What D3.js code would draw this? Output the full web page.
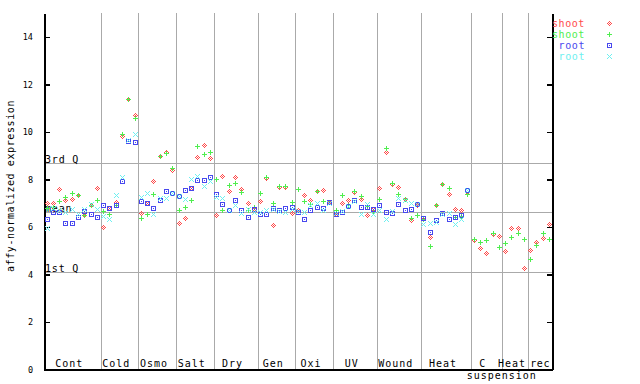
<!DOCTYPE html>
<html><head><meta charset="utf-8">
<script src="https://cdn.jsdelivr.net/npm/d3@7"></script>
<style>
body{margin:0;background:#fff}
svg text{font-family:"DejaVu Sans Mono",monospace}
</style>
</head><body>
<svg id="chart" width="640" height="384"></svg>
<script>
// ---------- data ----------
const categories = ["Cont","Cold","Osmo","Salt","Dry","Gen","Oxi","UV","Wound","Heat","C\nsuspension","Heat","rec"];
const sampleCounts = [9,6,6,6,7,6,6,7,7,8,5,4,4];
const seriesLabels = ["shoot","shoot","root","root"];

const shootA = [
 6.99,6.99,7.58,7.13,7.17,7.30,6.47,6.92,7.62,
 5.97,6.78,7.02,9.80,11.36,10.71,
 6.57,6.99,7.90,8.96,9.14,8.37,
 6.15,6.36,7.62,8.93,9.41,8.89,
 6.46,8.14,7.48,8.09,7.58,6.99,6.75,
 7.06,8.05,6.04,7.65,7.65,6.57,
 6.70,7.30,7.13,7.47,7.55,7.03,
 6.50,6.99,7.10,7.44,7.16,6.46,6.74,
 7.62,9.12,7.79,7.67,7.14,6.25,6.90,
 6.30,5.56,6.88,7.79,7.37,6.75,6.71,7.45,
 5.41,5.10,4.89,5.68,5.59,
 4.98,5.94,5.94,4.25,
 5.02,5.36,5.52,6.08];
const shootB = [
 6.78,6.80,7.06,7.23,7.41,7.30,6.47,6.90,7.13,
 6.64,6.50,6.92,9.87,11.38,10.57,
 6.36,6.53,7.37,8.98,9.07,8.47,
 6.67,6.82,7.10,9.38,9.03,9.14,
 8.00,6.71,7.76,7.81,7.46,6.68,6.80,
 7.41,8.09,6.99,7.69,7.70,7.03,
 7.58,7.06,6.96,7.49,7.06,7.03,
 6.68,7.30,6.90,7.47,7.27,6.85,6.64,
 7.16,9.32,7.81,7.38,7.16,6.36,6.46,
 6.30,5.19,6.88,7.79,7.62,6.40,6.45,7.37,
 5.45,5.35,5.43,5.72,5.12,
 5.31,5.56,5.73,5.48,
 4.63,5.21,5.73,5.48];
const rootA = [
 6.29,6.61,6.61,6.15,6.15,6.40,6.64,6.53,6.40,
 6.88,6.78,6.92,7.90,9.60,9.57,
 7.06,6.99,6.78,7.13,7.51,7.41,
 7.27,7.52,7.62,7.97,7.97,8.09,
 7.38,6.96,6.68,7.13,6.68,6.40,6.74,
 6.54,6.54,6.78,6.71,6.78,6.82,
 6.61,6.32,6.68,6.82,6.78,7.03,
 6.50,6.61,6.85,7.10,6.82,6.82,6.74,
 6.92,6.61,6.57,6.96,6.71,6.74,6.96,
 6.36,5.77,6.26,6.57,6.32,6.40,6.46,7.52,
 null,null,null,null,null,
 null,null,null,null,
 null,null,null,null];
const rootB = [
 5.94,6.78,6.70,6.60,6.74,6.53,6.72,6.95,6.72,
 6.43,6.32,7.34,8.07,9.62,9.91,
 7.23,7.41,6.53,7.20,7.20,7.41,
 7.27,7.16,8.00,8.11,7.72,7.90,
 7.24,7.20,6.68,6.88,6.57,6.75,6.60,
 6.60,6.68,6.72,6.66,6.62,6.75,
 6.65,6.60,6.92,6.99,6.67,6.99,
 6.55,6.65,6.85,7.05,6.50,6.96,6.50,
 6.71,6.29,6.65,7.20,7.10,6.99,6.95,
 6.08,6.15,6.20,6.50,6.57,6.12,6.29,7.52,
 null,null,null,null,null,
 null,null,null,null,
 null,null,null,null];

const refLabels = ["3rd Q","mean","1st Q"];
const refValues = [8.68, 6.61, 4.09];
const yTicks = [0,2,4,6,8,10,12,14];
const yLabel = "affy-normalized expression";

// ---------- setup ----------
const svg = d3.select("#chart");
const total = d3.sum(sampleCounts);
const L = 44, R = 552.7, T = 13.2, B = 369.3;
const x = d3.scaleLinear().domain([0, total]).range([L, R]);
const y = d3.scaleLinear().domain([0, 15]).range([B, T]);

const colors = ["#ff4a4a","#4fee4f","#4848ee","#6ef0f0"];
const starts = [0]; sampleCounts.forEach((c,i)=>starts.push(starts[i]+c));

// grid: vertical category boundaries
svg.append("g").selectAll("line").data(starts.slice(1,-1)).join("line")
  .attr("x1", d=>Math.round(x(d))+0.5).attr("x2", d=>Math.round(x(d))+0.5)
  .attr("y1", T).attr("y2", B)
  .attr("stroke","#aaaaaa").attr("stroke-width",1).attr("shape-rendering","crispEdges");

// reference lines
svg.append("g").selectAll("line").data(refValues).join("line")
  .attr("x1", L).attr("x2", R)
  .attr("y1", d=>Math.round(y(d))+0.5).attr("y2", d=>Math.round(y(d))+0.5)
  .attr("stroke","#aaaaaa").attr("stroke-width",1).attr("shape-rendering","crispEdges");
svg.append("g").selectAll("text").data(refValues).join("text")
  .attr("x", L+1).attr("y", d=>Math.round(y(d))-0.5)
  .attr("font-size",10).attr("letter-spacing",0.8).attr("fill","#000")
  .text((d,i)=>refLabels[i]);

// axes
const axL = svg.append("g").attr("transform",`translate(${L},0)`)
  .call(d3.axisLeft(y).tickValues(yTicks).tickSize(-6).tickSizeOuter(0).tickPadding(11));
const axR = svg.append("g").attr("transform",`translate(${R},0)`)
  .call(d3.axisRight(y).tickValues(yTicks).tickSize(-6).tickSizeOuter(0).tickFormat(""));
const axB = svg.append("g").attr("transform",`translate(0,${B})`)
  .call(d3.axisBottom(x).tickValues([]).tickSizeOuter(0));
[axL,axR,axB].forEach(a=>{
  a.select(".domain").attr("stroke","#000").attr("stroke-width",2).attr("shape-rendering","crispEdges");
  a.selectAll(".tick line").attr("stroke","#000").attr("stroke-width",1.5).attr("shape-rendering","crispEdges");
});
axL.selectAll(".tick text").attr("font-size",8.5).attr("font-family","DejaVu Sans Mono").attr("fill","#000");

// y label
svg.append("text").attr("transform",`translate(14,186) rotate(-90)`)
  .attr("text-anchor","middle").attr("font-size",10).attr("letter-spacing",0.6)
  .text(yLabel);

// category labels
categories.forEach((c,i)=>{
  const cx = x((starts[i]+starts[i+1])/2);
  const lines = c.split("\n");
  const last = i === categories.length-1;
  if(lines.length===1){
    svg.append("text").attr("x",last ? cx : cx-3).attr("y",367).attr("text-anchor","middle")
      .attr("font-size",10).attr("letter-spacing",last ? 0.6 : 1).text(lines[0]);
  } else {
    svg.append("text").attr("x",cx-4).attr("y",367).attr("text-anchor","middle")
      .attr("font-size",10).attr("letter-spacing",1).text(lines[0]);
    svg.append("text").attr("x",cx+15).attr("y",378.5).attr("text-anchor","middle")
      .attr("font-size",10).attr("letter-spacing",1).text(lines[1]);
  }
});

// markers as pixel masks
const masks = {
  diamond: [[0,0],[1,1],[-1,1],[1,-1],[-1,-1],[2,0],[-2,0],[0,2],[0,-2]],
  plus: [[0,0],[1,0],[2,0],[-1,0],[-2,0],[0,1],[0,2],[0,-1],[0,-2]],
  square: [[0,0],[-2,-2],[-1,-2],[0,-2],[1,-2],[2,-2],[-2,2],[-1,2],[0,2],[1,2],[2,2],[-2,-1],[-2,0],[-2,1],[2,-1],[2,0],[2,1]],
  cross: [[0,0],[1,1],[2,2],[-1,-1],[-2,-2],[1,-1],[2,-2],[-1,1],[-2,2]]
};
const shapes = ["diamond","plus","square","cross"];
function pix(cx, cy, mask){
  return mask.map(([dx,dy])=>`M${cx+dx},${cy+dy}h1v1h-1z`).join("");
}
const series = [shootA, shootB, rootA, rootB];
series.forEach((vals,si)=>{
  const pts = vals.map((v,i)=>({i,v})).filter(d=>d.v!=null);
  svg.append("g").selectAll("path").data(pts).join("path")
    .attr("d", d=>pix(Math.floor(x(d.i+0.5)), Math.floor(y(d.v)), masks[shapes[si]]))
    .attr("fill", colors[si]).attr("shape-rendering","crispEdges");
});

// legend
const legY = [23,34,45,56];
seriesLabels.forEach((s,i)=>{
  svg.append("text").attr("x",585).attr("y",legY[i]+4).attr("text-anchor","end")
    .attr("font-size",10).attr("letter-spacing",0.6).attr("fill",colors[i]).text(s);
  svg.append("path").attr("d",pix(609,legY[i],masks[shapes[i]]))
    .attr("fill",colors[i]).attr("shape-rendering","crispEdges");
});
</script>
</body></html>
